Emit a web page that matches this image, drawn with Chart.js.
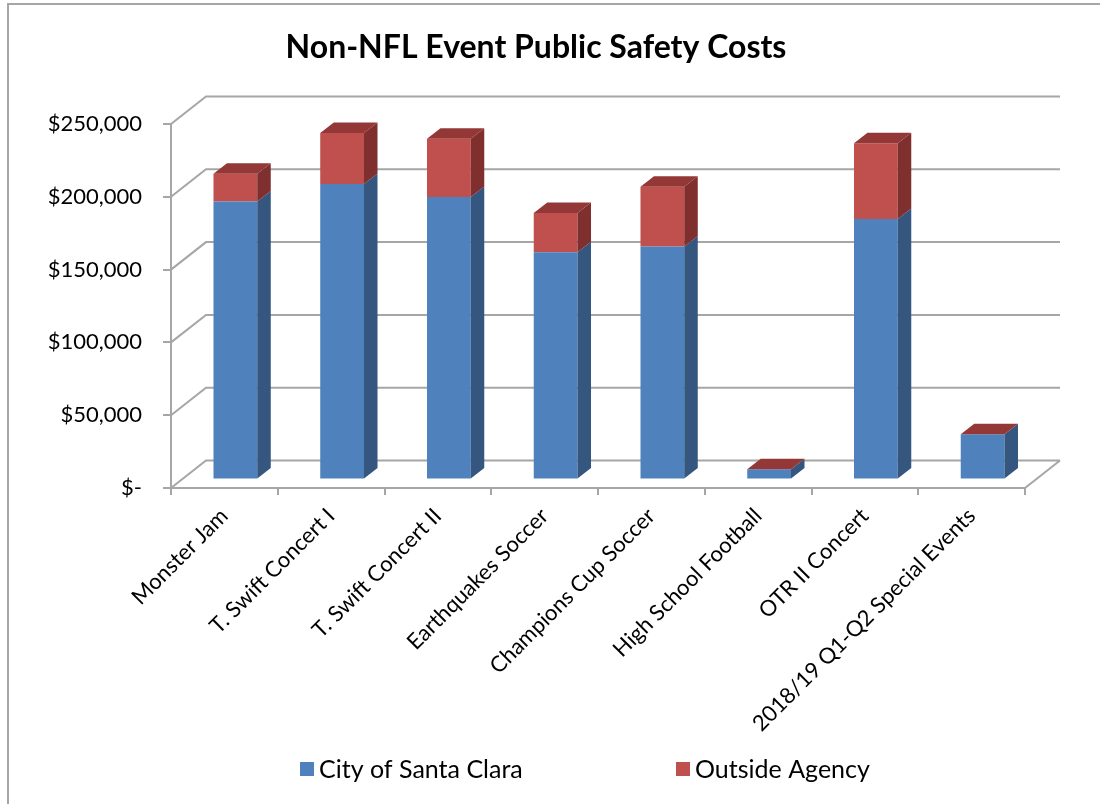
<!DOCTYPE html>
<html>
<head>
<meta charset="utf-8">
<title>Non-NFL Event Public Safety Costs</title>
<script src="https://cdn.jsdelivr.net/npm/chart.js@4.4.1/dist/chart.umd.min.js"></script>
<style>
  html, body { margin: 0; padding: 0; background: #fff; }
  #wrap { width: 1100px; height: 804px; }
</style>
</head>
<body>
<div id="wrap"><canvas id="chart" width="1100" height="804"></canvas></div>
<script>
// data
const events = [
  "Monster Jam",
  "T. Swift Concert I",
  "T. Swift Concert II",
  "Earthquakes Soccer",
  "Champions Cup Soccer",
  "High School Football",
  "OTR II Concert",
  "2018/19 Q1-Q2 Special Events"
];
const cityCosts = [191000, 203000, 194000, 156000, 160000, 7000, 179000, 31000];
const outsideCosts = [19000, 35000, 40000, 27000, 41000, 0, 52000, 0];
const seriesNames = ["City of Santa Clara", "Outside Agency"];
const yTickLabels = ["$-", "$50,000", "$100,000", "$150,000", "$200,000", "$250,000"];

// look
const GRID = "#a6a6a6";
const FRONT = ["#4f81bd", "#c0504d"];
const SIDE = ["#34567f", "#7f2f2e"];
const TOP = ["#5d8cc4", "#933836"];
const FONT = "Lato";

// 3d offsets (front plane -> back wall, bar plane, bar depth)
const DEPTH = { x: 35, y: -27.5 };
const BAR_SHIFT = { x: 11, y: -8.5 };
const BAR_DEPTH = { x: 13.5, y: -10.5 };

function poly(ctx, pts) {
  ctx.beginPath();
  ctx.moveTo(pts[0][0], pts[0][1]);
  for (let i = 1; i < pts.length; i++) ctx.lineTo(pts[i][0], pts[i][1]);
  ctx.closePath();
  ctx.fill();
}

const fake3d = {
  id: "fake3d",
  beforeDraw(chart) {
    const ctx = chart.ctx;
    ctx.save();
    ctx.fillStyle = "#fff";
    ctx.fillRect(0, 0, chart.width, chart.height);
    // outer frame, only top and left show in the original
    ctx.strokeStyle = GRID;
    ctx.lineWidth = 2;
    ctx.beginPath();
    ctx.moveTo(8, chart.height);
    ctx.lineTo(8, 4);
    ctx.lineTo(chart.width, 4);
    ctx.stroke();
    ctx.restore();
  },
  beforeDatasetsDraw(chart) {
    const { ctx, chartArea: a } = chart;
    const y = chart.scales.y;
    ctx.save();
    ctx.strokeStyle = GRID;
    ctx.lineWidth = 2;
    ctx.beginPath();
    y.ticks.forEach(t => {
      const py = y.getPixelForValue(t.value);
      ctx.moveTo(a.left, py);
      ctx.lineTo(a.left + DEPTH.x, py + DEPTH.y);
      ctx.lineTo(a.right + DEPTH.x, py + DEPTH.y);
    });
    const y0 = y.getPixelForValue(0);
    ctx.moveTo(a.right, y0);
    ctx.lineTo(a.right + DEPTH.x, y0 + DEPTH.y);
    ctx.stroke();
    ctx.restore();

    // bars sit a bit behind the front plane
    ctx.save();
    ctx.translate(BAR_SHIFT.x, BAR_SHIFT.y);
  },
  afterDatasetsDraw(chart) {
    const ctx = chart.ctx;
    const n = chart.data.datasets.length;
    chart.data.datasets.forEach((ds, i) => {
      const meta = chart.getDatasetMeta(i);
      meta.data.forEach(bar => {
        const p = bar.getProps(["x", "y", "base", "width"], true);
        const left = p.x - p.width / 2;
        const right = p.x + p.width / 2;
        const top = Math.min(p.y, p.base);
        const bottom = Math.max(p.y, p.base);
        ctx.fillStyle = SIDE[i];
        poly(ctx, [
          [right, top],
          [right + BAR_DEPTH.x, top + BAR_DEPTH.y],
          [right + BAR_DEPTH.x, bottom + BAR_DEPTH.y],
          [right, bottom]
        ]);
        if (i === n - 1) {
          ctx.fillStyle = TOP[i];
          poly(ctx, [
            [left, top],
            [left + BAR_DEPTH.x, top + BAR_DEPTH.y],
            [right + BAR_DEPTH.x, top + BAR_DEPTH.y],
            [right, top]
          ]);
        }
      });
    });
    ctx.restore();
  },
  afterDraw(chart) {
    // legend, spaced like the original
    const ctx = chart.ctx;
    const xs = [300, 676];
    const cy = 769;
    ctx.save();
    ctx.font = "25px " + FONT;
    ctx.textBaseline = "middle";
    ctx.textAlign = "left";
    chart.data.datasets.forEach((ds, i) => {
      ctx.fillStyle = ds.backgroundColor;
      ctx.fillRect(xs[i], cy - 7, 14, 14);
      ctx.fillStyle = "#000";
      ctx.fillText(ds.label, xs[i] + 19, cy + 1);
    });
    ctx.restore();
  }
};

const chart = new Chart(document.getElementById("chart"), {
  type: "bar",
  data: {
    labels: events,
    datasets: [
      {
        label: seriesNames[0],
        data: cityCosts,
        backgroundColor: FRONT[0],
        borderWidth: 0,
        categoryPercentage: 1,
        barPercentage: 0.41,
        clip: false
      },
      {
        label: seriesNames[1],
        data: outsideCosts,
        backgroundColor: FRONT[1],
        borderWidth: 0,
        categoryPercentage: 1,
        barPercentage: 0.41,
        clip: false
      }
    ]
  },
  options: {
    responsive: false,
    animation: false,
    devicePixelRatio: 1,
    layout: { padding: { left: 47, right: 75, top: 0, bottom: 56 } },
    plugins: {
      legend: { display: false },
      tooltip: { enabled: false },
      title: {
        display: true,
        text: "Non-NFL Event Public Safety Costs",
        color: "#000",
        font: { family: FONT, size: 32, weight: "bold" },
        padding: { top: 28, bottom: 57.6 }
      }
    },
    scales: {
      x: {
        stacked: true,
        grid: {
          drawOnChartArea: false,
          drawTicks: true,
          tickLength: 7,
          color: GRID,
          lineWidth: 2
        },
        border: { display: true, color: GRID, width: 2 },
        ticks: {
          minRotation: 45,
          maxRotation: 45,
          autoSkip: false,
          padding: 8,
          color: "#000",
          font: { family: FONT, size: 22 }
        },
        afterFit: s => { s.height = 260; }
      },
      y: {
        stacked: true,
        min: 0,
        max: 250000,
        ticks: {
          stepSize: 50000,
          padding: 21,
          color: "#000",
          font: { family: FONT, size: 22 },
          callback: (v, i) => yTickLabels[i]
        },
        grid: {
          drawOnChartArea: false,
          drawTicks: true,
          tickLength: 8,
          color: GRID,
          lineWidth: 2
        },
        border: { display: true, color: GRID, width: 2 },
        afterFit: s => { s.width = 124; }
      }
    }
  },
  plugins: [fake3d]
});
</script>
</body>
</html>
